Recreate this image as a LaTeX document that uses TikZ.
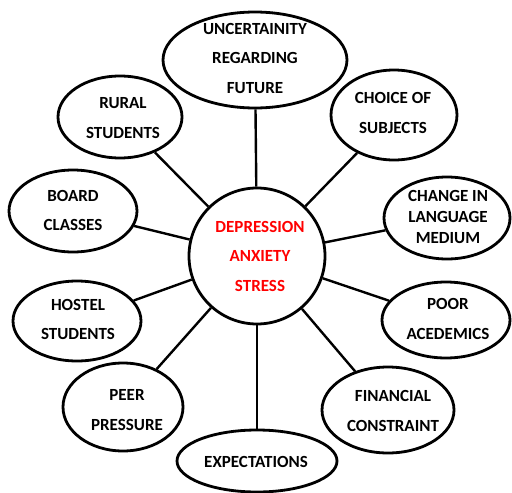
\documentclass[tikz,border=0pt]{standalone}
\usepackage{fontspec}
\setmainfont{Carlito}
\usetikzlibrary{shapes.geometric}
\begin{document}
\begin{tikzpicture}[x=1pt,y=-1pt,
  bub/.style={draw, line width=2.8pt, ellipse, inner sep=0pt},
  lbl/.style={align=center, inner sep=0pt, font=\bfseries\fontsize{17}{29.5}\selectfont},
  link/.style={line width=2.4pt}]
\useasboundingbox (0,0) rectangle (512,493);
% outer bubbles
\node[bub, minimum width=184pt, minimum height=96pt] (fut) at (255,60) {};
\node[bub, minimum width=124pt, minimum height=82pt] (rur) at (120,117) {};
\node[bub, minimum width=126pt, minimum height=90pt] (cho) at (394,115) {};
\node[bub, minimum width=128pt, minimum height=82pt] (brd) at (73,211) {};
\node[bub, minimum width=126pt, minimum height=82pt] (lng) at (447,218) {};
\node[bub, minimum width=128pt, minimum height=80pt] (hst) at (77,321) {};
\node[bub, minimum width=128pt, minimum height=76pt] (por) at (446,320) {};
\node[bub, minimum width=120pt, minimum height=88pt] (per) at (123,407) {};
\node[bub, minimum width=132pt, minimum height=86pt] (fin) at (388,410) {};
\node[bub, minimum width=160pt, minimum height=62pt] (exp) at (257,461) {};
% central circle
\node[bub, minimum width=136pt, minimum height=136pt] (core) at (257,256) {};
% spokes
\foreach \n in {fut,rur,cho,brd,lng,hst,por,per,fin,exp}
  \draw[link] (core) -- (\n);
% labels
\node[lbl] (futt) at (255,58) {UNCERTAINITY\\REGARDING\\FUTURE};
\node[lbl] (rurt) at (123,118) {RURAL\\STUDENTS};
\node[lbl] (chot) at (393,113) {CHOICE OF\\SUBJECTS};
\node[lbl] (brdt) at (73,210.5) {BOARD\\CLASSES};
\node[lbl, font=\bfseries\fontsize{17}{21}\selectfont] (lngt) at (448,217) {CHANGE IN\\LANGUAGE\\MEDIUM};
\node[lbl] (hstt) at (78,319.5) {HOSTEL\\STUDENTS};
\node[lbl] (port) at (448,319) {POOR\\ACEDEMICS};
\node[lbl] (pert) at (127,410) {PEER\\PRESSURE};
\node[lbl] (fint) at (393,411) {FINANCIAL\\CONSTRAINT};
\node[lbl] (expt) at (256,462) {EXPECTATIONS};
\node[lbl, text=red] (coret) at (260,256) {DEPRESSION\\ANXIETY\\STRESS};
\end{tikzpicture}
\end{document}
